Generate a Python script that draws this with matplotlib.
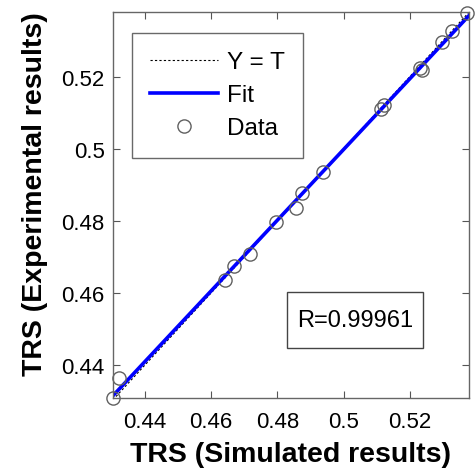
import matplotlib
matplotlib.use("Agg")
import matplotlib.pyplot as plt
from matplotlib.patches import Rectangle
import numpy as np

plt.rcParams['font.family'] = ['Liberation Sans', 'DejaVu Sans']

simulated = [0.4304, 0.4322, 0.4642, 0.4670, 0.4716, 0.4797, 0.4855, 0.4875,
             0.4939, 0.5114, 0.5122, 0.5231, 0.5238, 0.5299, 0.5329, 0.5373]
experimental = [0.4308, 0.4364, 0.4636, 0.4676, 0.4708, 0.4798, 0.4836, 0.4878,
                0.4937, 0.5111, 0.5121, 0.5224, 0.5220, 0.5296, 0.5326, 0.5378]
xticks = [0.44, 0.46, 0.48, 0.50, 0.52]
xticklabels = ['0.44', '0.46', '0.48', '0.5', '0.52']
yticks = [0.44, 0.46, 0.48, 0.50, 0.52]
yticklabels = ['0.44', '0.46', '0.48', '0.5', '0.52']
r_text = 'R=0.99961'

xlim = (0.4303, 0.5379)
ylim = (0.4308, 0.5380)

fig = plt.figure(figsize=(4.76, 4.77), dpi=100)
ax = fig.add_axes([0.2374, 0.1635, 0.7476, 0.8092])

xs = np.array(simulated)
ys = np.array(experimental)
coef = np.polyfit(xs, ys, 1)
xl = np.array(xlim)

ax.plot(xl, xl, linestyle=(0, (2, 2)), color='black', linewidth=0.8, label='Y = T')
ax.plot(xl, np.polyval(coef, xl), color='#0000ff', linewidth=2.6, label='Fit')
ax.plot(xs, ys, linestyle='none', marker='o', markersize=9.5, markerfacecolor='none',
        markeredgecolor='#606060', markeredgewidth=1.0, label='Data', clip_on=False)

ax.set_xlim(*xlim)
ax.set_ylim(*ylim)
ax.set_xticks(xticks)
ax.set_xticklabels(xticklabels)
ax.set_yticks(yticks)
ax.set_yticklabels(yticklabels)
ax.tick_params(direction='in', length=5, width=0.8, top=True, right=True,
               labelsize=16, color='#555555')
ax.tick_params(axis='x', pad=9)
ax.tick_params(axis='y', pad=6)
for s in ax.spines.values():
    s.set_color('#666666')
    s.set_linewidth(1.0)

ax.set_xlabel('TRS (Simulated results)', fontsize=20.5, fontweight='bold', labelpad=7)
ax.set_ylabel('TRS (Experimental results)', fontsize=20.5, fontweight='bold')
ax.yaxis.set_label_coords(-0.183, 0.531)

leg = ax.legend(loc='upper left', bbox_to_anchor=(0.053, 0.945), fontsize=17.5,
                handlelength=2.8, frameon=True, fancybox=False, edgecolor='#444444',
                borderpad=0.75, labelspacing=0.45, handletextpad=0.35, borderaxespad=0)
leg.get_frame().set_linewidth(1.0)

ax.add_patch(Rectangle((0.489, 0.1295), 0.382, 0.145, transform=ax.transAxes,
                       facecolor='white', edgecolor='#444444', linewidth=1.0, zorder=5))
ax.text(0.68, 0.202, r_text, transform=ax.transAxes, fontsize=17, ha='center', va='center',
        zorder=6)

fig.savefig('out.png', dpi=100)
